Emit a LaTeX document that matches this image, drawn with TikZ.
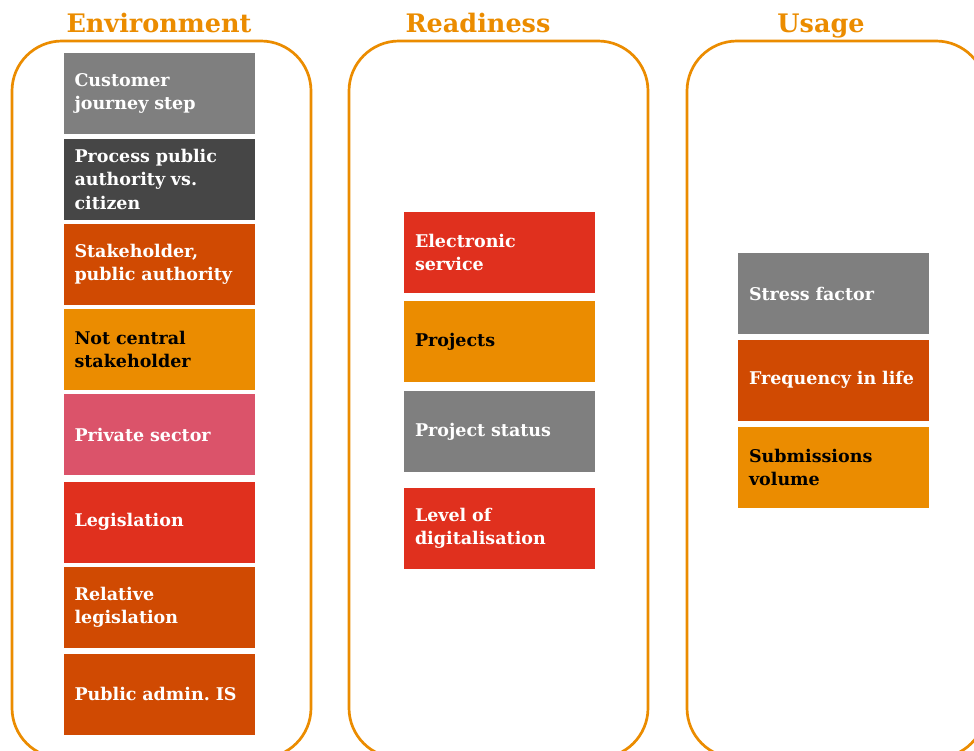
\documentclass[tikz,border=0pt]{standalone}
\usepackage{fontspec}
\setmainfont{DejaVu Serif}
\usepackage{tikz}
\usetikzlibrary{positioning}
\definecolor{pwOrange}{HTML}{EB8C00}
\definecolor{pwTangerine}{HTML}{D04A02}
\definecolor{pwRed}{HTML}{E0301E}
\definecolor{pwRose}{HTML}{DB536A}
\definecolor{pwGrey}{HTML}{7F7F7F}
\definecolor{pwDark}{HTML}{464646}
\frenchspacing
\tikzset{
    panel/.style={draw=pwOrange, line width=2.7pt, rounded corners=50pt, fill=white, minimum width=299pt, minimum height=717pt},
    heading/.style={text=pwOrange, anchor=base, font=\fontsize{25.5}{30}\selectfont\bfseries},
    factor/.style={rectangle, minimum width=191pt, minimum height=81pt, text width=169pt, inner xsep=11pt, align=left, text=white, font=\fontsize{17.5}{23.5}\selectfont\bfseries},
    darktext/.style={text=black}
}

\begin{document}
\begin{tikzpicture}[x=1pt, y=-1pt]
    \useasboundingbox (0,0) rectangle (974,750);
    \clip (0,0) rectangle (974,750);

    % Panels
    \node[panel] (env) at (161.5,399.5) {};
    \node[panel] (ready) at (498.5,399.5) {};
    \node[panel] (usage) at (836.5,399.5) {};

    % Headings
    \node[heading] (envtitle) at (159,32) {Environment};
    \node[heading] (readytitle) at (478,32) {Readiness};
    \node[heading] (usagetitle) at (821,32) {Usage};

    % Environment
    \node[factor, fill=pwGrey] (journey) at (159,93.5) {Customer\\journey step};
    \node[factor, fill=pwDark] (process) at (159,179) {Process public\\authority vs.\\citizen};
    \node[factor, fill=pwTangerine] (authority) at (159,264.5) {Stakeholder,\\public authority};
    \node[factor, fill=pwOrange, darktext] (notcentral) at (159,349.5) {Not central\\stakeholder};
    \node[factor, fill=pwRose] (private) at (159,434.5) {Private sector};
    \node[factor, fill=pwRed] (legislation) at (159,522) {Legislation};
    \node[factor, fill=pwTangerine] (relative) at (159,607.5) {Relative\\legislation};
    \node[factor, fill=pwTangerine] (adminis) at (159,694) {Public admin. IS};

    % Readiness
    \node[factor, fill=pwRed] (eservice) at (499.5,252.5) {Electronic\\service};
    \node[factor, fill=pwOrange, darktext] (projects) at (499.5,341.5) {Projects};
    \node[factor, fill=pwGrey] (status) at (499.5,431.5) {Project status};
    \node[factor, fill=pwRed] (digital) at (499.5,528.5) {Level of\\digitalisation};

    % Usage
    \node[factor, fill=pwGrey] (stress) at (833.5,293.5) {Stress factor};
    \node[factor, fill=pwTangerine] (frequency) at (833.5,380) {Frequency in life};
    \node[factor, fill=pwOrange, darktext] (volume) at (833.5,467.5) {Submissions\\volume};

\end{tikzpicture}
\end{document}
